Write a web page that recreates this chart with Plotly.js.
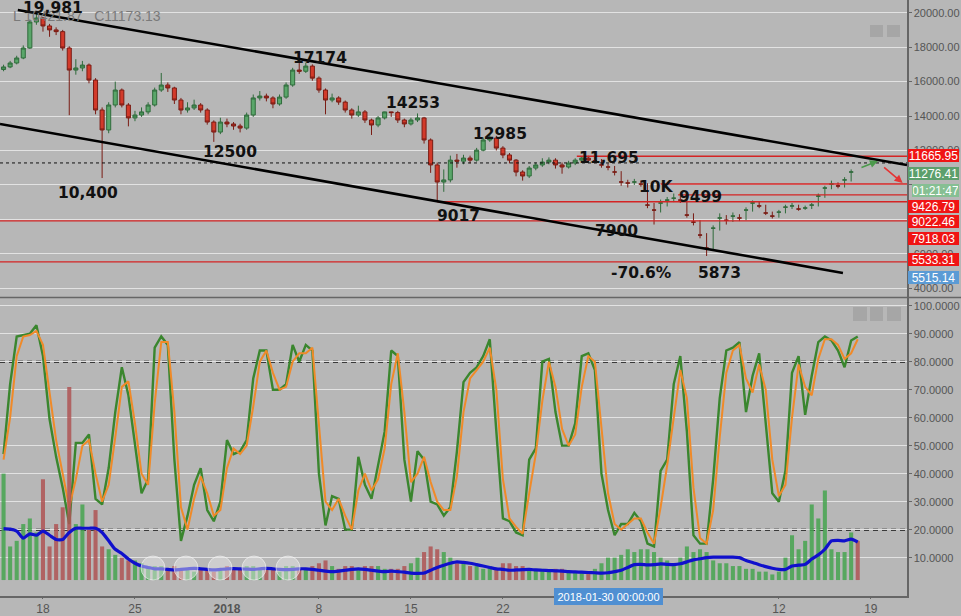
<!DOCTYPE html>
<html>
<head>
<meta charset="utf-8">
<script src="https://cdn.plot.ly/plotly-3.0.1.min.js"></script>
<style>html,body{margin:0;padding:0;background:#b7b7b7;}#chart{width:961px;height:616px;}</style>
</head>
<body>
<div id="chart"></div>
<script>
// ---- DATA (12-hour candles, first candle 2017-12-15 00:00 UTC) ----
const startTime = '2017-12-15T00:00:00Z';
const stepHours = 12;

const opens = [16700,16850,17080,17370,17950,19460,19690,19230,19000,18900,17950,16670,16790,16960,16090,14350,13190,14640,15510,14640,13890,14060,14240,14640,15510,15800,15630,14930,14350,14470,14640,14350,13650,13070,13650,13540,13420,13300,14060,15050,15160,15050,14700,15100,15800,16670,16600,16900,16200,15510,14930,15050,14810,14350,14060,14240,13770,13480,13890,14240,14200,13770,13540,13770,13890,12610,11160,10170,10290,11440,11380,11560,11440,12020,12610,12720,12140,11740,11440,10750,10520,10980,11160,11330,11440,11160,11040,11270,11440,11560,11400,11160,11040,10750,10170,10110,10170,10050,8830,8540,8950,9120,9230,9120,8250,7840,7090,6330,7490,8080,7950,8190,8080,8540,8950,8780,8370,8190,8420,8710,8780,8600,8660,8830,9350,9820,10050,9940,10290,10750];
const highs = [16980,17200,17500,18100,19600,19981,19750,19350,19150,19000,18050,17300,17200,17050,16200,14500,14800,16000,15600,14750,14300,14500,14800,15650,16500,15950,15700,15050,14800,14950,14750,14450,13750,13900,13850,13650,13550,14200,15250,15450,15300,15150,15250,15950,16800,17174,17100,17000,16300,15600,15300,15150,14900,14450,14600,14350,13850,14000,14253,14253,14300,13850,13900,14150,13950,12700,11300,10900,11700,11800,11750,11700,12150,12750,12985,12850,12250,11850,11500,10850,11100,11300,11550,11600,11550,11300,11400,11550,11650,11695,11600,11500,11250,11100,10800,10300,10350,10250,10100,8950,9150,9300,9499,9350,9200,8350,7950,7200,7650,8350,8250,8400,8300,8700,9100,9050,8850,8450,8550,8850,8950,8850,8800,8950,9500,9950,10250,10150,10450,10900,11270];
const lows = [16600,16780,17000,17300,17900,19300,18900,18600,18700,17800,14050,16400,16600,15900,14100,10400,13000,14500,14500,13400,13700,13950,14100,14550,15400,15400,14700,14100,14200,14350,14200,13500,12500,12950,13350,13200,13050,13200,13950,14900,14850,14450,14600,15000,15700,16450,16500,16050,15350,14100,14800,14650,14200,13850,13950,13600,12900,13350,13800,13950,13600,13350,13450,13650,12400,10700,9017,9600,10150,11000,11200,11250,11350,11950,12500,12000,11550,11250,10500,10250,10400,10850,11050,11200,10950,10650,10950,11150,11350,11300,11250,11000,10850,10550,9950,9850,10000,9900,8650,7700,8400,8750,9000,8950,8100,7650,6900,5873,6200,7350,7700,7850,7900,7950,8450,8650,8250,8050,8100,8350,8600,8500,8550,8600,8750,9250,9750,9800,9850,10200,10700];
const closes = [16850,17080,17370,17950,19460,19690,19230,19000,18900,17950,16670,16790,16960,16090,14350,13190,14640,15510,14640,13890,14060,14240,14640,15510,15800,15630,14930,14350,14470,14640,14350,13650,13070,13650,13540,13420,13300,14060,15050,15160,15050,14700,15100,15800,16670,16600,16900,16200,15510,14930,15050,14810,14350,14060,14240,13770,13480,13890,14240,14200,13770,13540,13770,13890,12610,11160,10170,10290,11440,11380,11560,11440,12020,12610,12720,12140,11740,11440,10750,10520,10980,11160,11330,11440,11160,11040,11270,11440,11560,11440,11400,11160,11040,10750,10170,10110,10170,10050,8830,8540,8950,9120,9230,9120,8250,7840,7090,6330,7490,8080,7950,8190,8080,8540,8950,8780,8370,8190,8420,8710,8780,8600,8660,8830,9350,9820,10050,9940,10290,10750,11173.13];

const stochK = [47,72,89,89.5,90,93,82,59.5,46,35,22,51,51,54,31,29,42,62,78,68,50,33,38,85,89,86,45,16,25,36,42,27,23,30,52,47,48,52,74,84,84,70,70,72,86,80,86,84,40,21.5,32,31,20,20,46,36,31,43,55,84,82,45,30,48,45,30,29,25,28,48,72.7,76,78,82,88,55,24,23,19,18,45,49,80,81,62,50,50,58,82,83,77,40,27,18,22,22,26,23,15,14,41,45,72,82,55,18,15,15,38,67,84,85,87,62,75,83,58,33,30,41,76,82,61,75,87,89,87.6,84,78,87.6,89];
const stochD = [45,60,82,89,89.5,91,86,68,52,40,28,38,50,52,40,30,36,53,71,73,58,40,36,65,87,87,62,28,20,31,39,33,25,27,42,49,47,50,64,80,84,76,70,71,80,83,83,85,58,30,27,31,25,20,34,40,34,38,49,72,83,62,37,40,46,37,30,27,27,39,62,74,77,80,85,70,38,24,21,18.5,33,47,66,80,71,56,50,54,71,82,80,57,33,22,20,22,24,24,19,15,28,43,60,77,67,35,17,15,27,53,76,84,86,74,69,79,70,45,32,36,60,79,71,68,81,88,88,86,81,83,88];

const volumes = [38,12,14,20,22,17,36,12,20,26,69,20,27,18,25,12,11,9,8,7,7,6,5,5,5,4,5,4,4,3,4,4,3,4,5,4,4,5,5,4,4,4,3,5,5,4,4,5,6,7,5,4,5,5,4,5,5,5,4,4,4,5,6,8,10,12,11,10,8,6,6,5,5,4,5,4,6,6,5,5,4,4,4,3,4,4,3,3,3,3,4,6,8,8,9,11,10,11,11,10,8,7,6,8,12,10,11,10,7,6,6,5,5,4,4,3,3,2,3,8,16,11,14,27,22,32,11,10,10,17,14];
const volumeMA = [18.4,18.2,17.5,15,16.5,16,17.5,16,14.5,14.5,17,18.5,18.5,18.5,18.5,17,14,11,9.5,7.5,6,5,4.5,4,4,3.8,3.6,3.8,4,4.2,4,3.8,3.6,3.8,4,4.1,4,3.9,3.8,4,4.2,4,3.8,3.7,3.8,4,4,3.8,3.5,3.2,3,3.2,3.5,3.8,4,3.8,3.5,3.2,3,3.2,3,2.8,2.5,2.4,2.5,3.5,4.5,5.3,6,6.5,6.3,6,5.5,5,4.5,4,3.8,3.5,3.6,3.7,3.8,3.6,3.5,3.4,3.3,3.2,3,2.9,2.8,2.7,2.6,2.5,2.6,3,3.5,4.5,5.5,5.6,5.4,5.5,5.8,5.6,5.5,5.8,6.5,7.2,7.6,8,8.2,8.2,8.2,8.2,8,7,6.3,5.5,4.8,4.2,3.8,3.8,5,5.3,5.6,7.5,9,11,14,14.2,14,14.6,13.6];

const priceTickVals = [4000,6000,8000,10000,12000,14000,16000,18000,20000];
const priceTickText = ['4000.00','6000.00','','','12000.00','14000.00','16000.00','18000.00','20000.00'];
const stochTickVals = [10,20,30,40,50,60,70,80,90,100];
const dateTickVals = ['2017-12-18','2017-12-25','2018-01-01','2018-01-08','2018-01-15','2018-01-22','2018-02-12','2018-02-19'];
const dateTickText = ['18','25','<b>2018</b>','8','15','22','12','19'];

// chart drawings (date, price)
const upperTrend = [['2017-12-16 02:00',20157],['2018-02-21 18:00',11157]];
const lowerTrend = [['2017-12-14 17:30',13538],['2018-02-16 21:00',4887]];
const redLevels = [
  {price:11665.95, from:'2018-01-27 15:00'},
  {price:10054,    from:'2018-02-03 00:00'},
  {price:9426.79,  from:'2018-02-04 08:00'},
  {price:9022.46,  from:'2018-01-17 00:00'},
  {price:7918.03,  from:'2017-12-14 17:30'},
  {price:5533.31,  from:'2017-12-14 17:30'}
];
const lastPrice = 11276.41;
const chartLabels = [
  ['19,981','2017-12-18 18:00',20273],
  ['17174','2018-01-08 02:00',17370],
  ['14253','2018-01-15 04:00',14757],
  ['12985','2018-01-21 19:00',12957],
  ['11,695','2018-01-30 02:00',11564],
  ['12500','2018-01-01 06:00',11912],
  ['10,400','2017-12-21 10:00',9532],
  ['9017','2018-01-18 14:00',8197],
  ['7900','2018-01-30 15:00',7325],
  ['10K','2018-02-02 16:00',9880],
  ['9499','2018-02-06 00:00',9300],
  ['-70.6%','2018-02-01 14:00',4887],
  ['5873','2018-02-07 12:00',4887]
];
// right-hand price tags: text, background, pixel centre y, pixel left x
const priceTags = [
  ['11665.95','#f01414',156,908],
  ['11276.41','#5c9f6c',173.5,908],
  ['01:21:47','#86bf93',191,912],
  ['9426.79','#f01414',206,908],
  ['9022.46','#f01414',221,908],
  ['7918.03','#f01414',238,908],
  ['5533.31','#f01414',259.5,908],
  ['5515.14','#5b9bd5',277,908]
];

// ---- BUILD ----
const t0 = Date.parse(startTime);
function fmt(ms){ return new Date(ms).toISOString().slice(0,16).replace('T',' '); }
const times = closes.map((_, i) => fmt(t0 + i*stepHours*3600000));
const volColors = closes.map((c, i) => c >= opens[i] ? 'rgba(70,165,80,0.85)' : 'rgba(175,85,85,0.85)');

const W = 961, H = 616, PR = 907, PB = 596;
const px = x => x/PR;
const py = y => 1 - y/PB;

const traces = [
  {type:'candlestick', x:times, open:opens, high:highs, low:lows, close:closes,
   xaxis:'x', yaxis:'y', whiskerwidth:0,
   increasing:{line:{color:'#2f6b3b', width:1}, fillcolor:'#5aa66a'},
   decreasing:{line:{color:'#7a1c14', width:1}, fillcolor:'#d23a2a'},
   hoverinfo:'skip', showlegend:false},
  {type:'bar', x:times, y:volumes, xaxis:'x', yaxis:'y3', marker:{color:volColors, line:{width:0}},
   width:12*3600000*0.62, hoverinfo:'skip', showlegend:false},
  {type:'scatter', mode:'lines', x:times, y:volumeMA, xaxis:'x', yaxis:'y3',
   line:{color:'#1010cc', width:3.2, shape:'spline', smoothing:0.6}, hoverinfo:'skip', showlegend:false},
  {type:'scatter', mode:'lines', x:times, y:stochK, xaxis:'x', yaxis:'y2',
   line:{color:'#3a862e', width:2.4}, hoverinfo:'skip', showlegend:false},
  {type:'scatter', mode:'lines', x:times, y:stochD, xaxis:'x', yaxis:'y2',
   line:{color:'#f08a28', width:2}, hoverinfo:'skip', showlegend:false}
];

const shapes = [];
[80,20].forEach(v => shapes.push({type:'line', xref:'paper', yref:'y2', x0:0, x1:1, y0:v, y1:v,
  line:{color:'#111', width:2, dash:'5px,4px'}, layer:'below'}));
redLevels.forEach(l => shapes.push({type:'line', xref:'x', yref:'y', x0:l.from, x1:'2018-02-21 18:00',
  y0:l.price, y1:l.price, line:{color:'#d42424', width:1.3}}));
shapes.push({type:'line', xref:'paper', yref:'y', x0:0, x1:1, y0:lastPrice, y1:lastPrice,
  line:{color:'#111', width:1, dash:'dot'}});
[upperTrend, lowerTrend].forEach(t => shapes.push({type:'line', xref:'x', yref:'y',
  x0:t[0][0], y0:t[0][1], x1:t[1][0], y1:t[1][1], line:{color:'#000', width:2.6}}));
shapes.push({type:'line', xref:'paper', yref:'paper', x0:0, x1:W/PR, y0:py(297.5), y1:py(297.5),
  line:{color:'#666', width:1.5}});
[153,186,220,254,288].forEach(cx => shapes.push({type:'circle', xref:'paper', yref:'paper',
  x0:px(cx-12), x1:px(cx+12), y0:py(580), y1:py(556),
  fillcolor:'rgba(235,235,235,0.45)', line:{color:'rgba(250,250,250,0.55)', width:1}}));
[[870,883,25,37],[887,900,25,37],[853,867,307,321],[870,883,307,321],[887,901,307,321]].forEach(r =>
  shapes.push({type:'rect', xref:'paper', yref:'paper', x0:px(r[0]), x1:px(r[1]), y0:py(r[3]), y1:py(r[2]),
  fillcolor:'rgba(160,160,160,0.75)', line:{width:0}}));

const annotations = [];
annotations.push({xref:'paper', yref:'paper', x:px(11), y:py(16), xanchor:'left', yanchor:'middle',
  text:'L 10421.87   C11173.13', showarrow:false, font:{family:'Liberation Sans, Arial', size:14, color:'#7a7a7a'}});
chartLabels.forEach(l => annotations.push({xref:'x', yref:'y', x:l[1], y:l[2], text:'<b>'+l[0]+'</b>', showarrow:false,
  font:{family:'DejaVu Sans', size:15.5, color:'#111'}, xanchor:'center', yanchor:'middle'}));
priceTags.forEach(t => annotations.push({xref:'paper', yref:'paper', x:px(t[3]), y:py(t[2]), xanchor:'left',
  yanchor:'middle', text:t[0], showarrow:false, bgcolor:t[1], width:961-t[3]-4, height:11, borderpad:1,
  borderwidth:0, font:{family:'Liberation Sans, Arial', size:12, color:'#fff'}, align:'center'}));
annotations.push({xref:'x', yref:'y', x:'2018-02-19 13:00', y:11390, ax:-18, ay:7, text:'', showarrow:true,
  arrowhead:2, arrowsize:1, arrowwidth:1.6, arrowcolor:'#4c9a4c'});
annotations.push({xref:'x', yref:'y', x:'2018-02-21 10:00', y:10112, ax:-20, ay:-17, text:'', showarrow:true,
  arrowhead:2, arrowsize:1, arrowwidth:1.6, arrowcolor:'#e53535'});
annotations.push({xref:'x', yref:'paper', x:'2018-01-30 00:00', y:py(605), text:'2018-01-30 00:00:00',
  showarrow:false, bgcolor:'#4f8fd2', width:107, height:15, borderpad:1, borderwidth:0,
  font:{family:'Liberation Sans, Arial', size:11, color:'#fff'}});

const tickFont = {family:'Liberation Sans, Arial', size:11, color:'#555'};
const layout = {
  width:W, height:H, margin:{l:0, r:W-PR, t:0, b:H-PB}, paper_bgcolor:'#b7b7b7', plot_bgcolor:'#b7b7b7',
  showlegend:false, hovermode:false, dragmode:false, boxgap:0.12,
  xaxis:{type:'date', range:['2017-12-14 17:30','2018-02-21 18:00'], anchor:'y2', rangeslider:{visible:false},
    tickvals:dateTickVals, ticktext:dateTickText, tickfont:{family:'Liberation Sans, Arial', size:12, color:'#555'},
    ticks:'outside', ticklen:1, tickcolor:'#666',
    showgrid:false, showline:true, linecolor:'#666', linewidth:1.5, zeroline:false},
  yaxis:{domain:[py(297), 1], range:[3493,20737], side:'right', tickvals:priceTickVals, ticktext:priceTickText,
    tickfont:tickFont, ticks:'outside', ticklen:3, tickcolor:'#666', gridcolor:'#e2e2e2', gridwidth:1,
    showline:true, linecolor:'#666', linewidth:1.5, zeroline:false, fixedrange:true},
  yaxis2:{domain:[0, py(298)], range:[-3.7,102.75], side:'right', tickvals:stochTickVals, tickformat:'.4f',
    tickfont:tickFont, ticks:'outside', ticklen:3, tickcolor:'#666', gridcolor:'#e2e2e2', gridwidth:1,
    showline:true, linecolor:'#666', linewidth:1.5, zeroline:false, fixedrange:true},
  yaxis3:{overlaying:'y2', range:[-5.7,100.75], visible:false, fixedrange:true},
  bargap:0.3, shapes:shapes, annotations:annotations
};
Plotly.newPlot('chart', traces, layout, {staticPlot:true, displayModeBar:false});
</script>
</body>
</html>
